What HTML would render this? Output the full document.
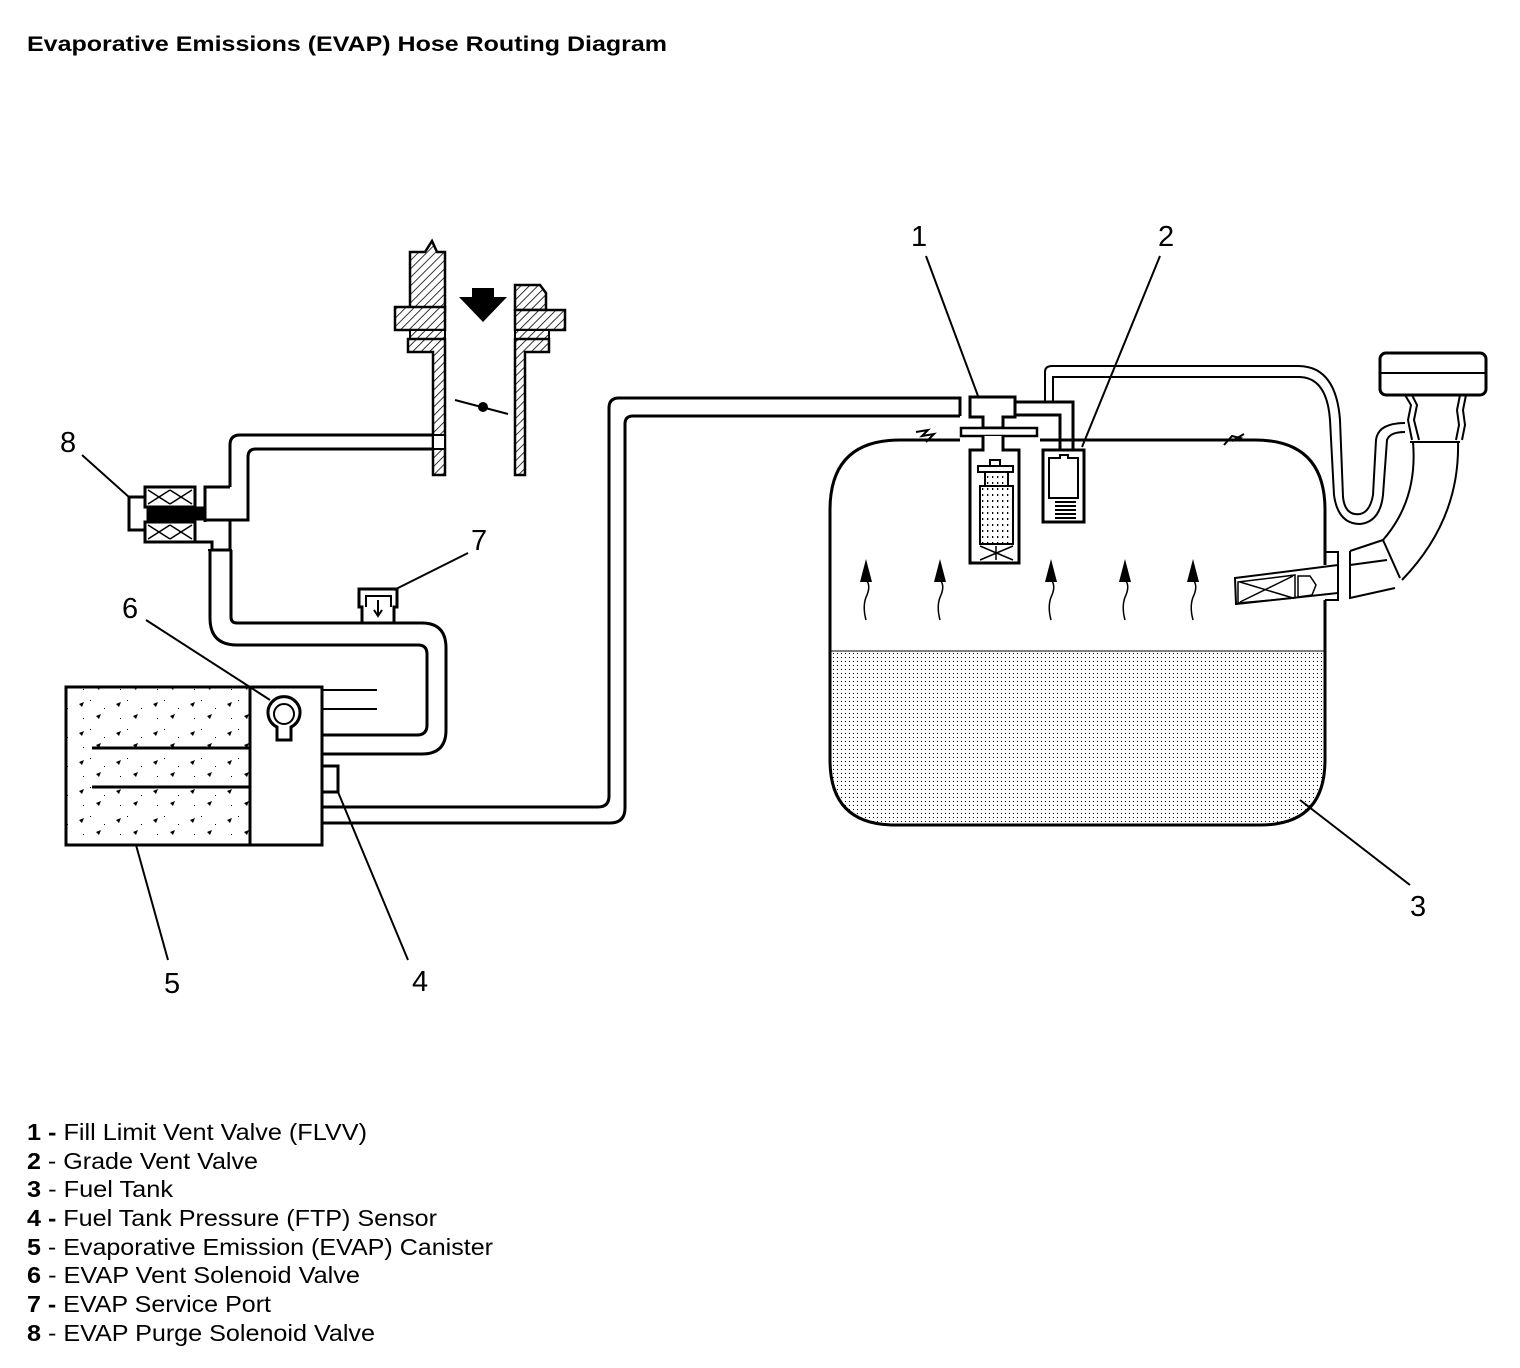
<!DOCTYPE html>
<html><head><meta charset="utf-8"><style>
html,body{margin:0;padding:0;background:#fff;}
svg{display:block;}
text{font-family:"Liberation Sans",Arial,sans-serif;fill:#000;}
</style></head><body>
<svg width="1520" height="1368" viewBox="0 0 1520 1368" xmlns="http://www.w3.org/2000/svg">
<defs>
<pattern id="hatch" width="6" height="6" patternUnits="userSpaceOnUse" patternTransform="rotate(45)">
<rect width="6" height="6" fill="#fff"/><line x1="0" y1="0" x2="0" y2="6" stroke="#000" stroke-width="1.6"/></pattern>
<pattern id="dots" width="4" height="4" patternUnits="userSpaceOnUse">
<rect width="4" height="4" fill="#fff"/><rect x="1" y="1" width="1" height="1" fill="#000"/></pattern>
<pattern id="sdots" width="5" height="6" patternUnits="userSpaceOnUse">
<rect width="5" height="6" fill="#fff"/><rect x="2" y="2" width="1.3" height="2" fill="#000"/></pattern>
<pattern id="cdots" width="37" height="29" patternUnits="userSpaceOnUse">
<rect width="37" height="29" fill="#fff"/><path d="M5 8 l5 -2 l-2 5z M22 20 l5 -2 l-2 5z" fill="#000"/><rect x="16" y="4" width="1" height="1" fill="#000"/><rect x="30" y="12" width="1" height="1" fill="#000"/><rect x="9" y="22" width="1" height="1" fill="#000"/></pattern>
</defs>

<text x="27" y="51" font-size="21" font-weight="bold" textLength="640" lengthAdjust="spacingAndGlyphs">Evaporative Emissions (EVAP) Hose Routing Diagram</text>

<g fill="none" stroke="#000" stroke-width="3">
<!-- throttle body left -->
<path d="M410 252 L425 252 L432 241 L437 252 L445 252 L445 310 L410 310 Z" fill="url(#hatch)" stroke-width="2.5"/>
<rect x="395" y="307" width="50" height="23" fill="url(#hatch)" stroke-width="2.5"/>
<rect x="410" y="330" width="35" height="9" fill="url(#hatch)" stroke-width="2"/>
<path d="M408 339 L445 339 L445 475 L433 475 L433 352 L408 352 Z" fill="url(#hatch)" stroke-width="2.5"/>
<rect x="433" y="435" width="12" height="14" fill="#fff" stroke-width="2"/>
<path d="M515 285 L540 285 L546 293 L546 310 L515 310 Z" fill="url(#hatch)" stroke-width="2.5"/>
<rect x="515" y="310" width="50" height="20" fill="url(#hatch)" stroke-width="2.5"/>
<rect x="515" y="330" width="34" height="9" fill="url(#hatch)" stroke-width="2"/>
<path d="M515 339 L549 339 L549 352 L525 352 L525 475 L515 475 Z" fill="url(#hatch)" stroke-width="2.5"/>
<path d="M459 297 L507 297 L483 322 Z" fill="#000" stroke="none"/>
<rect x="472" y="288" width="22" height="10" fill="#000" stroke="none"/>
<line x1="455" y1="400" x2="508" y2="414" stroke-width="2"/>
<circle cx="483" cy="407" r="5" fill="#000" stroke="none"/>

<!-- hose throttle to purge solenoid -->
<path d="M433 435 L240 435 Q230 435 230 445 L230 487" />
<path d="M433 449 L256 449 Q248 449 248 457 L248 520 L205 520" />
<path d="M230 487 L205 487 L205 522" />
<rect x="145" y="487" width="50" height="20" />
<rect x="145" y="522" width="50" height="20" />
<path d="M148 490 L170 504 M170 490 L148 504 M170 490 L192 504 M192 490 L170 504 M148 525 L170 539 M170 525 L148 539 M170 525 L192 539 M192 525 L170 539" stroke-width="1.5"/>
<rect x="148" y="508" width="55" height="11" fill="#000"/>
<path d="M145 497 L129 497 L129 530 L145 530" />
<path d="M195 542 L212 542 L212 550 L230 550 L230 520" />
<line x1="208" y1="550" x2="232" y2="550" stroke-width="2"/>
<path d="M210 550 L210 618 Q210 645 237 645 L418 645 Q427 645 427 654 L427 725 Q427 735 417 735 L322 735" />
<path d="M231 550 L231 617 Q231 623 237 623 L422 623 Q446 623 446 648 L446 730 Q446 754 422 754 L322 754" />
<path d="M362 623 L362 607 L359 607 L359 589 L397 589 L397 607 L394 607 L394 623" />
<path d="M366 607 L366 596 L391 596 L391 607" stroke-width="2"/>
<path d="M378 600 L378 615 M374 610 L378 616 L382 610" stroke-width="2"/>

<!-- canister -->
<rect x="66" y="687" width="256" height="158" fill="url(#cdots)" />
<rect x="250" y="687" width="72" height="158" fill="#fff" />
<line x1="92" y1="748" x2="250" y2="748" />
<line x1="92" y1="787" x2="250" y2="787" />
<line x1="322" y1="690" x2="377" y2="690" stroke-width="2"/>
<line x1="322" y1="709" x2="377" y2="709" stroke-width="2"/>
<path d="M277 727 A16 16 0 1 1 291 727 L291 740 L277 740 Z" fill="#fff"/>
<circle cx="284" cy="714" r="10" stroke-width="2"/>
<rect x="322" y="766" width="16" height="26" />

<!-- hose canister to tank -->
<path d="M322 807 L598 807 Q609 807 609 796 L609 408 Q609 398 619 398 L960 398 L960 416" />
<path d="M322 823 L610 823 Q625 823 625 808 L625 424 Q625 416 633 416 L960 416" />

<!-- tank -->
<path d="M831 652 L1324 652 L1324 760 Q1324 824 1260 824 L895 824 Q831 824 831 760 Z" fill="url(#dots)" stroke="none"/>
<line x1="831" y1="651" x2="1324" y2="651" stroke-width="1"/>
<path d="M960 440 L900 440 Q830 440 830 510 L830 760 Q830 825 895 825 L1260 825 Q1325 825 1325 760 L1325 600 M1325 565 L1325 510 Q1325 440 1255 440 L1040 440" />
<path d="M916 432 L928 430 L922 436 L934 434 L926 442" stroke-width="2"/>
<path d="M1224 445 L1232 436 L1240 438 L1232 441 L1244 434" stroke-width="2"/>

<!-- FLVV -->
<path d="M970 397 L1015 397 L1015 417 L1003 417 L1003 428 L983 428 L983 417 L970 417 Z" fill="#fff"/>
<rect x="961" y="428" width="76" height="8" fill="#fff" stroke-width="2.5"/>
<path d="M983 436 L983 450 L970 450 L970 563 L1019 563 L1019 450 L1003 450 L1003 436" fill="#fff"/>
<rect x="978" y="466" width="35" height="6" stroke-width="2"/>
<rect x="990" y="460" width="10" height="6" stroke-width="2"/>
<rect x="985" y="472" width="23" height="14" fill="url(#sdots)" stroke-width="2"/>
<rect x="980" y="486" width="33" height="58" fill="url(#sdots)" stroke-width="2"/>
<path d="M980 544 L1013 544 M980 546 L1013 560 M1013 546 L980 560 M996 546 L996 560" stroke-width="1.5"/>
<path d="M1015 402 L1073 402 L1073 450" />
<path d="M1015 415 L1060 415 L1060 450" />
<path d="M1045 402 L1045 372 Q1045 366 1052 366 L1298 366 Q1336 366 1340 420 L1343 497 Q1345 516 1360 514 Q1370 512 1373 495 L1376 440 Q1378 423 1405 423" stroke-width="2"/>
<path d="M1053 402 L1053 377 L1300 377 Q1327 378 1330 420 L1334 495 Q1338 524 1360 524 Q1380 522 1383 495 L1387 440 Q1390 432 1405 432" stroke-width="2"/>
<path d="M1043 450 L1084 450 L1084 522 L1043 522 Z" fill="#fff"/>
<path d="M1049 458 L1060 458 L1060 455 L1068 455 L1068 458 L1078 458 L1078 498 L1049 498 Z" stroke-width="2"/>
<path d="M1055 502 L1076 502 M1055 506 L1076 506 M1055 510 L1076 510 M1055 514 L1076 514 M1055 518 L1076 518" stroke-width="2"/>

<!-- filler cap and pipe -->
<rect x="1380" y="353" width="106" height="42" rx="6" fill="#fff"/>
<line x1="1381" y1="373" x2="1485" y2="373" stroke-width="2"/>
<path d="M1405 395 L1411 405 L1408 420 L1412 440 M1412 395 L1417 405 L1414 420 L1419 440 M1460 395 L1457 410 L1459 425 L1456 440 M1466 395 L1463 410 L1465 425 L1462 440" stroke-width="2"/>
<path d="M1410 442 L1460 442" stroke-width="2"/>
<path d="M1413 442 Q1418 500 1383 540 M1458 442 Q1460 520 1402 580" stroke-width="2"/>
<path d="M1383 540 L1400 578 M1350 551 L1383 540 M1350 551 L1350 598 L1395 588 M1350 565 L1387 560" stroke-width="2"/>
<path d="M1325 552 L1338 552 L1338 600 L1325 600" stroke-width="2"/>
<path d="M1235 578 L1338 565 L1338 593 L1236 604 Z" stroke-width="2"/>
<path d="M1238 582 L1295 575 L1295 598 L1238 603 Z M1240 582 L1293 598 M1293 576 L1240 602 M1298 576 L1298 597 L1312 595 L1316 585 L1310 576 Z" stroke-width="1.5"/>

<g stroke-width="1.5">
<path d="M866 620 Q862 605 867 595 Q871 585 866 580"/>
<path d="M940 620 Q936 605 941 595 Q945 585 940 580"/>
<path d="M1051 620 Q1047 605 1052 595 Q1056 585 1051 580"/>
<path d="M1125 620 Q1121 605 1126 595 Q1130 585 1125 580"/>
<path d="M1193 620 Q1189 605 1194 595 Q1198 585 1193 580"/>
</g>
<g fill="#000" stroke="none">
<path d="M866 559 L860 582 L872 582Z"/><path d="M940 559 L934 582 L946 582Z"/><path d="M1051 559 L1045 582 L1057 582Z"/><path d="M1125 559 L1119 582 L1131 582Z"/><path d="M1193 559 L1187 582 L1199 582Z"/>
</g>

<g stroke-width="2">
<line x1="926" y1="256" x2="978" y2="396"/>
<line x1="1160" y1="256" x2="1082" y2="447"/>
<line x1="1410" y1="885" x2="1300" y2="800"/>
<line x1="408" y1="960" x2="338" y2="792"/>
<line x1="168" y1="960" x2="136" y2="845"/>
<line x1="146" y1="620" x2="270" y2="700"/>
<line x1="468" y1="553" x2="394" y2="590"/>
<line x1="82" y1="455" x2="130" y2="498"/>
</g>
</g>

<g font-size="29">
<text x="911" y="246">1</text>
<text x="1158" y="246">2</text>
<text x="1410" y="916">3</text>
<text x="412" y="991">4</text>
<text x="164" y="993">5</text>
<text x="122" y="618">6</text>
<text x="471" y="550">7</text>
<text x="60" y="452">8</text>
</g>

<g font-size="23">
<text x="27" y="1140" textLength="340" lengthAdjust="spacingAndGlyphs"><tspan font-weight="bold">1 -</tspan> Fill Limit Vent Valve (FLVV)</text>
<text x="27" y="1169" textLength="231" lengthAdjust="spacingAndGlyphs"><tspan font-weight="bold">2</tspan> - Grade Vent Valve</text>
<text x="27" y="1197" textLength="146" lengthAdjust="spacingAndGlyphs"><tspan font-weight="bold">3</tspan> - Fuel Tank</text>
<text x="27" y="1226" textLength="410" lengthAdjust="spacingAndGlyphs"><tspan font-weight="bold">4 -</tspan> Fuel Tank Pressure (FTP) Sensor</text>
<text x="27" y="1255" textLength="466" lengthAdjust="spacingAndGlyphs"><tspan font-weight="bold">5</tspan> - Evaporative Emission (EVAP) Canister</text>
<text x="27" y="1283" textLength="333" lengthAdjust="spacingAndGlyphs"><tspan font-weight="bold">6</tspan> - EVAP Vent Solenoid Valve</text>
<text x="27" y="1312" textLength="244" lengthAdjust="spacingAndGlyphs"><tspan font-weight="bold">7 -</tspan> EVAP Service Port</text>
<text x="27" y="1341" textLength="348" lengthAdjust="spacingAndGlyphs"><tspan font-weight="bold">8</tspan> - EVAP Purge Solenoid Valve</text>
</g>
</svg>
</body></html>
